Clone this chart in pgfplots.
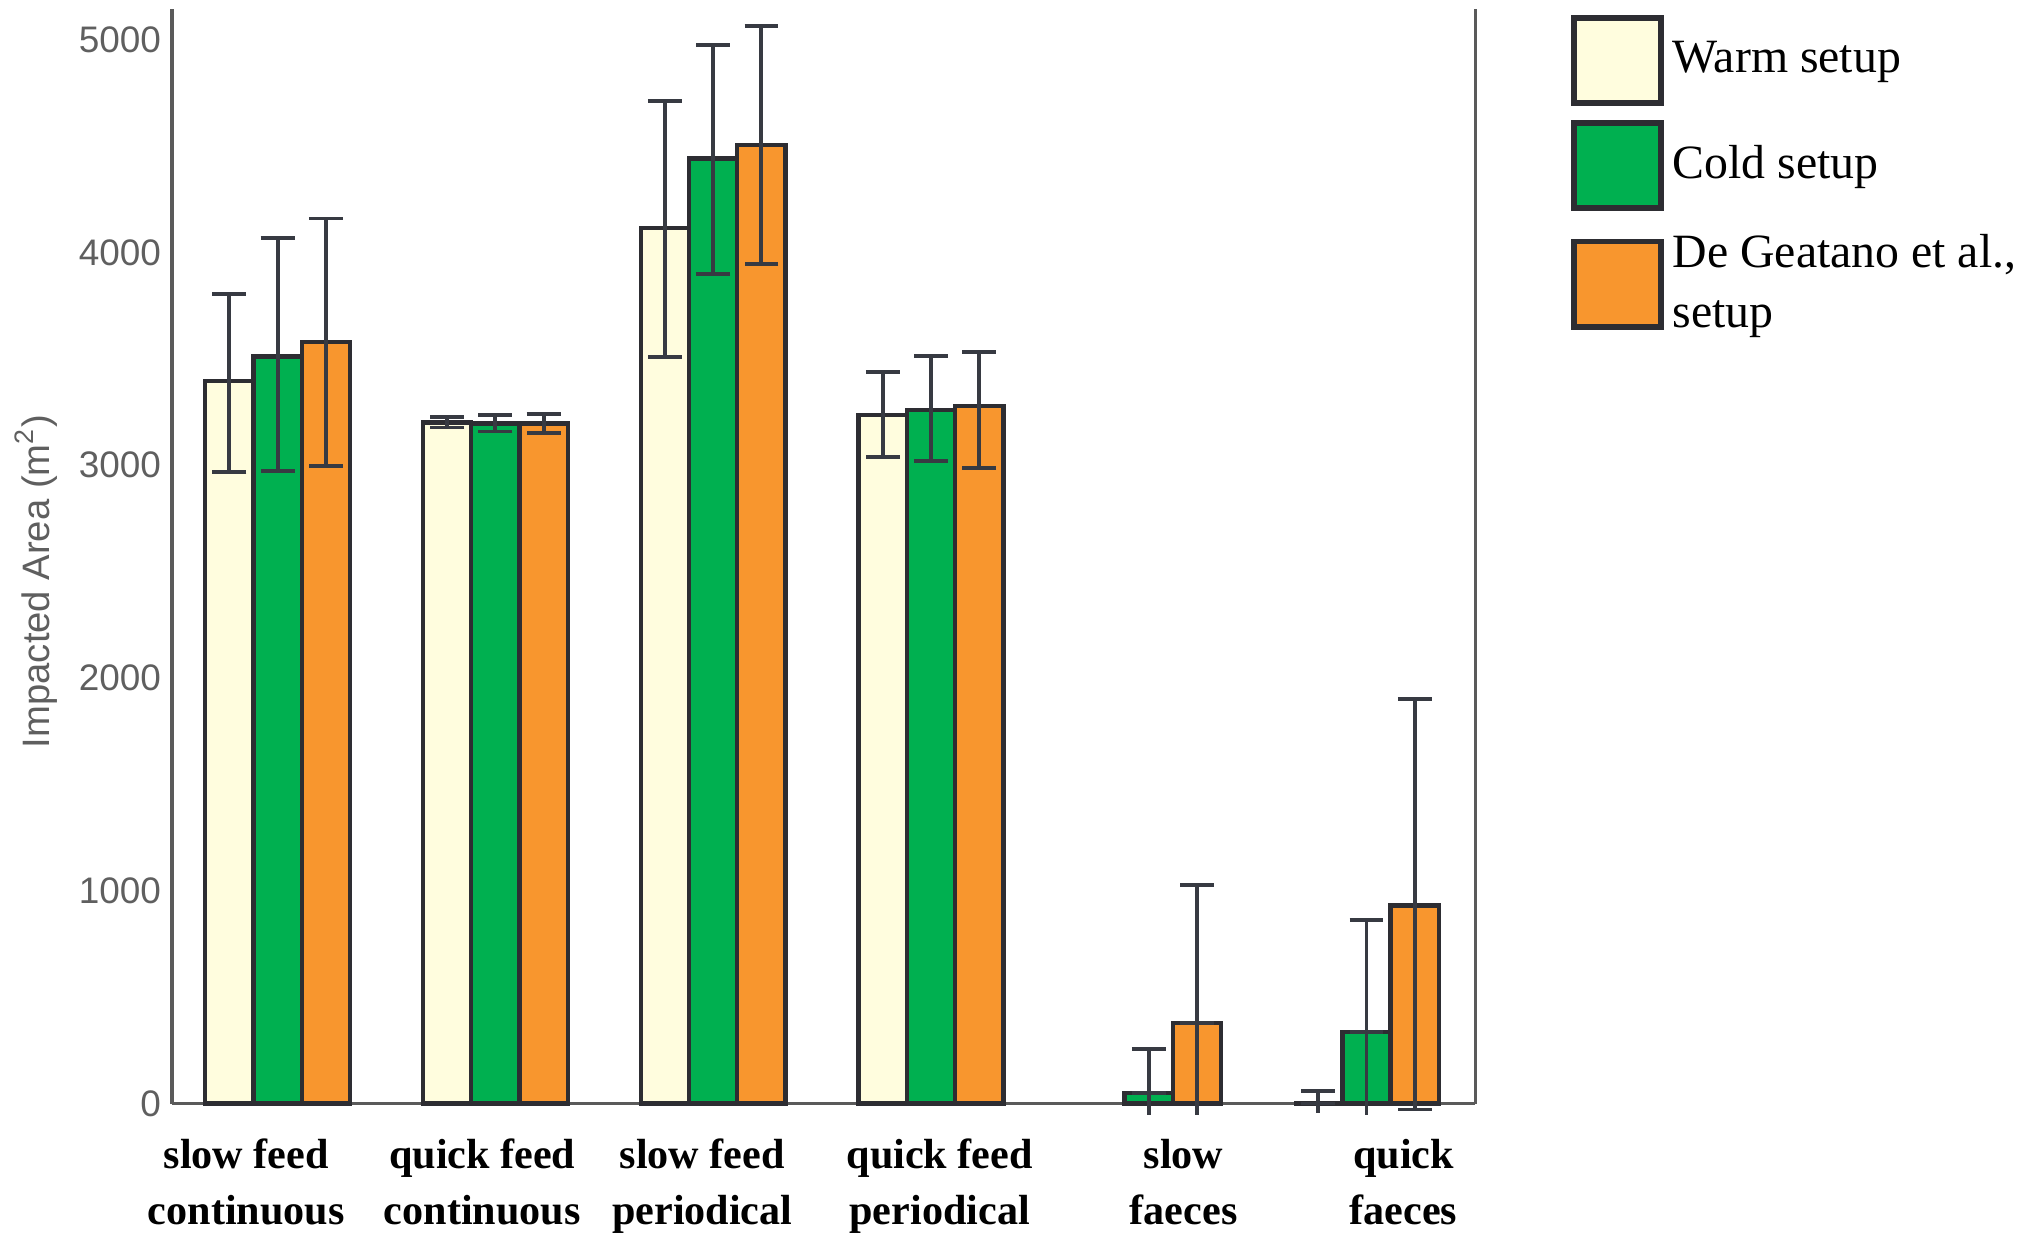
\documentclass[border=0pt]{standalone}
\usepackage{pgfplots}
\pgfplotsset{compat=1.18}
\usepackage{fontspec}
\setmainfont{Liberation Serif}
\setsansfont{Liberation Sans}
\definecolor{warm}{RGB}{255,253,222}
\definecolor{cold}{RGB}{0,176,80}
\definecolor{orng}{RGB}{248,150,46}
\definecolor{edge}{RGB}{45,45,50}
\definecolor{errc}{RGB}{55,58,66}
\definecolor{axc}{RGB}{90,90,90}
\definecolor{tickc}{RGB}{95,95,95}
\pgfplotsset{
  sqlegend/.style={legend image code/.code={\draw[##1, line width=1.3pt] (0pt,-9.8pt) rectangle (20pt,9.8pt);}},
  mybar/.style={ybar, bar width=0.2216, bar shift=0pt, draw=edge, line width=1pt, sqlegend,
    error bars/y dir=both, error bars/y explicit,
    error bars/error bar style={line width=0.9pt, color=errc},
    error bars/error mark options={rotate=90, mark size=3.9pt, line width=0.9pt, color=errc}},
  lowstub/.style={forget plot, only marks, mark=*, mark size=0pt, mark options={draw=none, fill=none},
    error bars/y dir=minus, error bars/y explicit, error bars/error mark=none,
    error bars/error bar style={line width=0.9pt, draw=errc}},
}
\begin{document}
\begin{tikzpicture}
\begin{axis}[
  scale only axis,
  width=300pt, height=252pt,
  xmin=-0.485, xmax=5.5,
  ymin=0, ymax=5145,
  clip=false,
  axis x line*=bottom, axis y line*=left,
  axis line style={color=axc, line width=0.8pt},
  major tick length=0pt,
  xtick={-0.144,0.94,1.95,3.04,4.16,5.17},
  xticklabels={{slow feed\\continuous},{quick feed\\continuous},{slow feed\\periodical},{quick feed\\periodical},{slow\\faeces},{quick\\faeces}},
  xticklabel style={font=\bfseries\fontsize{9.7}{12.8}\selectfont, align=center, inner sep=0pt, yshift=-8pt},
  ytick={0,1000,2000,3000,4000,5000},
  scaled y ticks=false,
  /pgf/number format/1000 sep={},
  /pgf/number format/assume math mode=true,
  yticklabel style={font=\sffamily\fontsize{8.5}{10}\selectfont, color=tickc, xshift=1pt},
  ylabel={Impacted Area (m\textsuperscript{2})},
  ylabel style={font=\sffamily\fontsize{8.8}{10}\selectfont, color=tickc, yshift=-2pt, at={(ticklabel cs:0.477)}},
  legend cell align=left,
  legend style={draw=none, fill=none, at={(1.073,0.995)}, anchor=north west, inner sep=0pt,
    row sep=3.3pt, font=\fontsize{11}{14}\selectfont, cells={align=left}},
]
\addplot[mybar, fill=warm] coordinates {
  (-0.2216,3394) += (0,410) -= (0,428)
  (0.7784,3201) += (0,24) -= (0,24)
  (1.7784,4113) += (0,598) -= (0,605)
  (2.7784,3237) += (0,201) -= (0,197)
  (4.7784,0) += (0,60) -= (0,0)
};
\addlegendentry{Warm setup}
\addplot[mybar, fill=cold] coordinates {
  (0,3511) += (0,556) -= (0,539)
  (1,3196) += (0,38) -= (0,38)
  (2,4441) += (0,535) -= (0,544)
  (3,3258) += (0,255) -= (0,237)
  (4,50) += (0,207) -= (0,0)
  (5,336) += (0,526) -= (0,0)
};
\addlegendentry{Cold setup}
\addplot[mybar, fill=orng] coordinates {
  (0.2216,3578) += (0,581) -= (0,581)
  (1.2216,3196) += (0,43) -= (0,43)
  (2.2216,4503) += (0,559) -= (0,559)
  (3.2216,3277) += (0,255) -= (0,289)
  (4.2216,379) += (0,648) -= (0,0)
  (5.2216,930) += (0,969) -= (0,958)
};
\addlegendentry{De Geatano et al.,\\setup}
\addplot[lowstub] coordinates {
  (4.7784,0) -= (0,43)
  (4,50) -= (0,105)
  (5,336) -= (0,388)
  (4.2216,379) -= (0,434)
};
\draw[color=axc, line width=0.8pt] (rel axis cs:1,0) -- (rel axis cs:1,1);
\path (rel axis cs:0,1) -- ++(0pt,2pt);
\end{axis}
\end{tikzpicture}
\end{document}
